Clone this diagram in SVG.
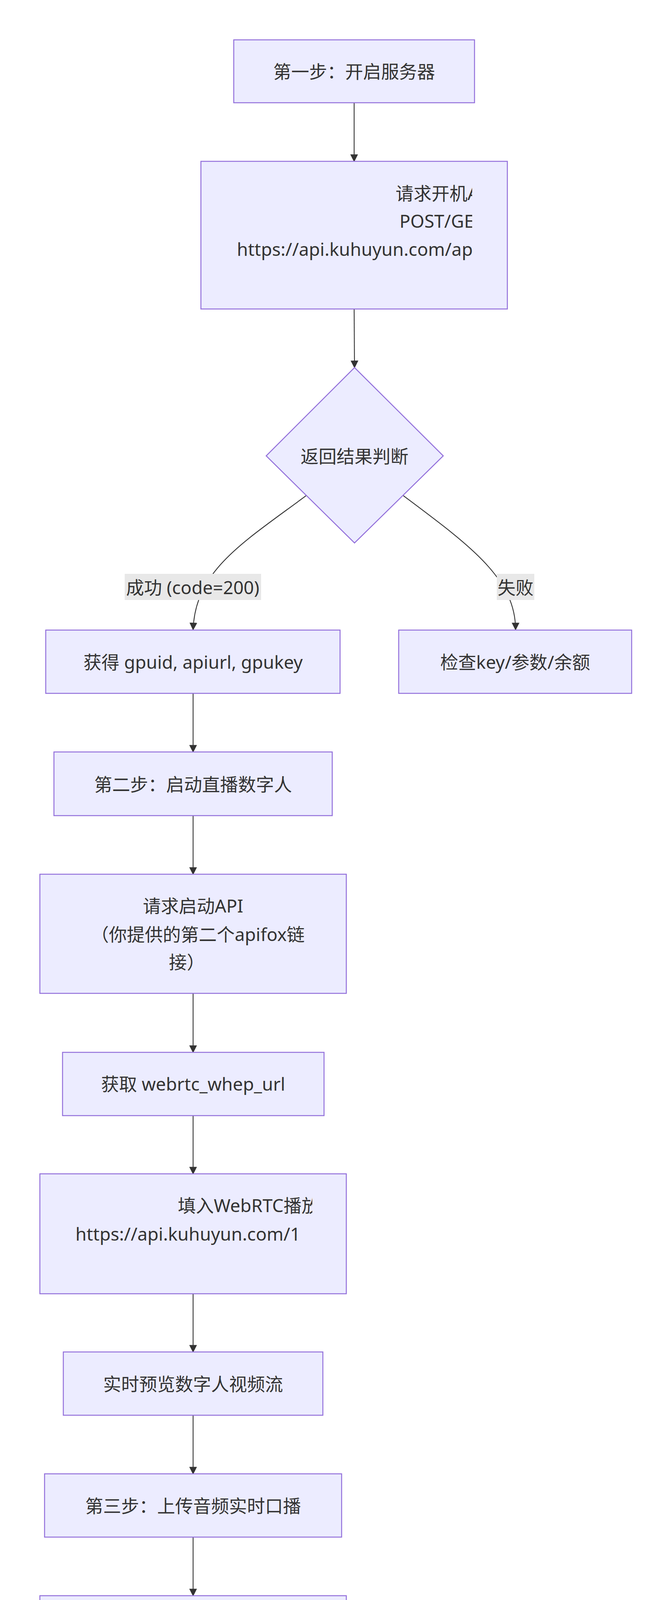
<svg xmlns="http://www.w3.org/2000/svg" width="1709" height="5645" viewBox="0 0 1709 5645">
<style>
.n{fill:#ECECFF;stroke:#9370DB;stroke-width:2.5}
.t{font-family:"Noto Sans","Noto Sans CJK SC",sans-serif;font-size:46px;fill:#333;text-anchor:middle;dominant-baseline:central}
.s{text-anchor:start}
.e{fill:none;stroke:#333;stroke-width:2.2;marker-end:url(#a)}
.lb{fill:#e8e8e8}
</style>
<defs>
<marker id="a" viewBox="0 0 10 10" refX="9" refY="5" markerWidth="9" markerHeight="9" orient="auto"><path d="M0,0L10,5L0,10z" fill="#333"/></marker>
<clipPath id="c1"><rect x="514" y="413" width="694" height="378"/></clipPath>
<clipPath id="c2"><rect x="102" y="3005" width="697" height="307"/></clipPath>
</defs>
<g id="edges">
<path class="e" d="M906,263V413"/>
<path class="e" d="M906,791L907,941"/>
<path class="e" d="M783,1269C620,1390,500,1460,494,1612"/>
<path class="e" d="M1032,1269C1200,1395,1319,1480,1319,1612"/>
<path class="e" d="M494,1775V1925"/>
<path class="e" d="M494,2088V2238"/>
<path class="e" d="M494,2543V2694"/>
<path class="e" d="M494,2856V3005"/>
<path class="e" d="M494,3312V3461"/>
<path class="e" d="M494,3623V3773"/>
<path class="e" d="M494,3935V4085"/>
<path class="e" d="M494,4391V4541"/>
<path class="e" d="M494,4704V4853"/>
<path class="e" d="M494,5087V5237"/>
</g>
<g id="lbl1"><rect class="lb" x="319" y="1469" width="349" height="67"/><text class="t" x="493" y="1503">成功 (code=200)</text></g>
<g id="lbl2"><rect class="lb" x="1271" y="1469" width="96" height="67"/><text class="t" x="1319" y="1503">失败</text></g>
<g id="n1"><rect class="n" x="598" y="102" width="616" height="161"/><text class="t" x="906" y="182">第一步：开启服务器</text></g>
<g id="n2"><rect class="n" x="514" y="413" width="784" height="378"/>
<g clip-path="url(#c1)"><text class="t s" x="1012" y="494">请求开机API</text><text class="t s" x="1022" y="565">POST/GET</text><text class="t s" x="606" y="637">https://api.kuhuyun.com/api/server</text></g></g>
<g id="n3"><polygon class="n" points="907,941 1134,1167 907,1390 681,1167"/><text class="t" x="907" y="1167">返回结果判断</text></g>
<g id="n4"><rect class="n" x="117" y="1613" width="753" height="162"/><text class="t" x="494" y="1694">获得 gpuid, apiurl, gpukey</text></g>
<g id="n5"><rect class="n" x="1020" y="1613" width="596" height="162"/><text class="t" x="1318" y="1694">检查key/参数/余额</text></g>
<g id="n6"><rect class="n" x="138" y="1925" width="712" height="163"/><text class="t" x="494" y="2007">第二步：启动直播数字人</text></g>
<g id="n7"><rect class="n" x="102" y="2238" width="784" height="305"/><text class="t" x="494" y="2318">请求启动API</text><text class="t" x="506" y="2391">（你提供的第二个apifox链</text><text class="t" x="478" y="2462">接）</text></g>
<g id="n8"><rect class="n" x="160" y="2694" width="669" height="162"/><text class="t" x="494" y="2774">获取 webrtc_whep_url</text></g>
<g id="n9"><rect class="n" x="102" y="3005" width="784" height="307"/>
<g clip-path="url(#c2)"><text class="t s" x="455" y="3085">填入WebRTC播放器</text><text class="t s" x="193" y="3158">https://api.kuhuyun.com/1</text></g></g>
<g id="n10"><rect class="n" x="162" y="3461" width="664" height="162"/><text class="t" x="494" y="3542">实时预览数字人视频流</text></g>
<g id="n11"><rect class="n" x="114" y="3773" width="760" height="162"/><text class="t" x="494" y="3854">第三步：上传音频实时口播</text></g>
<g id="n12"><rect class="n" x="102" y="4085" width="784" height="306"/><text class="t" x="494" y="4166">请求音频上传API</text><text class="t" x="506" y="4238">（你提供的第三个apifox链</text><text class="t" x="478" y="4310">接）</text></g>
<g id="n13"><rect class="n" x="234" y="4541" width="520" height="163"/><text class="t" x="494" y="4621">播放器同步口播</text></g>
<g id="n14"><rect class="n" x="122" y="4853" width="745" height="234"/>
<rect x="220" y="4908" width="51" height="50" fill="#16c60c" stroke="#000" stroke-width="3"/><path d="M231,4933L242,4944L260,4920" fill="none" stroke="#fff" stroke-width="5"/>
<text class="t" x="537" y="4933">实现你自己的业务逻辑</text><text class="t" x="494" y="5006">（如集成到直播间/网站）</text></g>
<g id="n15"><rect class="n" x="102" y="5237" width="784" height="306"/><text class="t" x="508" y="5318">（可选）关闭服务器</text><text class="t" x="482" y="5391">请求开机API，</text><text class="t" x="494" y="5461">type=shutdown</text></g>
</svg>
